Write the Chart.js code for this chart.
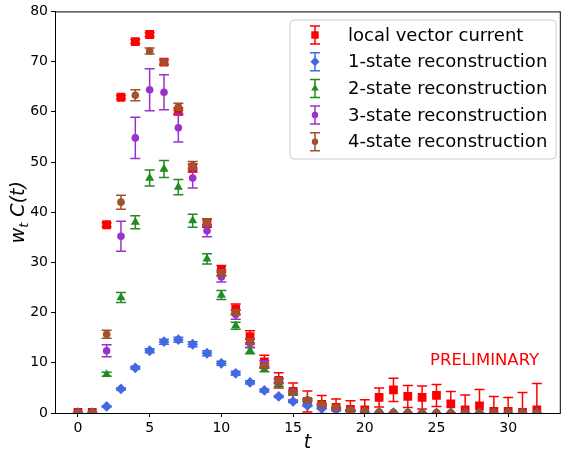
<!DOCTYPE html>
<html>
<head>
<meta charset="utf-8">
<script src="https://cdn.jsdelivr.net/npm/chart.js@4.4.0/dist/chart.umd.min.js"></script>
<style>
  html, body { margin: 0; padding: 0; background: #fff; overflow: hidden; }
  canvas { display: block; }
</style>
</head>
<body>
<canvas id="corr" width="566" height="452"></canvas>
<script>
// time slices
const tValues = [0, 1, 2, 3, 4, 5, 6, 7, 8, 9, 10, 11, 12, 13, 14, 15, 16,
  17, 18, 19, 20, 21, 22, 23, 24, 25, 26, 27, 28, 29, 30, 31, 32];

// local vector current correlator
const localCurrent = [0.1, 0.1, 37.5, 62.9, 74.0, 75.4, 69.9, 60.1, 48.8, 37.8, 28.4, 20.7, 15.2,
  10.2, 6.5, 4.3, 2.3, 1.7, 1.1, 0.7, 0.6, 3.1, 4.6, 3.3, 3.1, 3.5, 1.8, 0.6, 1.4, 0.3, 0.3, 0.1, 0.6];
const localErr = [0.05, 0.05, 0.4, 0.3, 0.4, 0.4, 0.5, 0.7, 0.8, 0.8, 1.0, 1.0, 1.2,
  1.3, 1.5, 1.7, 2.1, 1.8, 1.7, 1.75, 2.05, 1.9, 2.3, 2.2, 2.3, 2.2, 2.5, 3.0, 3.3, 3.0, 2.8, 4.0, 5.3];

// n-state reconstructions
const state1 = [0.05, 0.05, 1.3, 4.8, 9.0, 12.4, 14.2, 14.6, 13.7, 11.9, 9.9, 7.9, 6.1,
  4.5, 3.3, 2.3, 1.5, 0.9, 0.6, 0.4, 0.2, 0.1, 0.05, 0.03, 0.02, 0.01, 0, 0, 0, 0, 0, 0, 0];
const state1Err = [0, 0, 0.1, 0.2, 0.3, 0.4, 0.5, 0.5, 0.5, 0.5, 0.4, 0.4, 0.3,
  0.3, 0.2, 0.2, 0.2, 0.1, 0.1, 0.1, 0, 0, 0, 0, 0, 0, 0, 0, 0, 0, 0, 0, 0];

const state2 = [0.05, 0.05, 7.7, 23.0, 38.0, 46.8, 48.6, 45.0, 38.3, 30.7, 23.5, 17.4, 12.4,
  8.7, 5.7, 3.9, 2.6, 1.6, 1.0, 0.5, 0.3, 0.1, 0.05, 0.02, 0.01, 0, 0, 0, 0, 0, 0, 0, 0];
const state2Err = [0, 0, 0.4, 1.0, 1.3, 1.6, 1.7, 1.5, 1.3, 1.0, 0.9, 0.7, 0.6,
  0.5, 0.4, 0.3, 0.2, 0.2, 0.1, 0.1, 0, 0, 0, 0, 0, 0, 0, 0, 0, 0, 0, 0, 0];

const state3 = [0.05, 0.05, 12.4, 35.2, 54.8, 64.4, 63.9, 56.8, 46.8, 36.3, 27.1, 19.6, 13.9,
  9.8, 6.4, 4.2, 2.6, 1.5, 0.9, 0.5, 0.3, 0.1, 0.05, 0.02, 0.01, 0, 0, 0, 0, 0, 0, 0, 0];
const state3Err = [0, 0, 1.2, 3.0, 4.1, 4.2, 3.5, 2.8, 2.0, 1.2, 1.0, 0.9, 0.8,
  0.6, 0.5, 0.4, 0.3, 0.2, 0.1, 0.1, 0, 0, 0, 0, 0, 0, 0, 0, 0, 0, 0, 0, 0];

const state4 = [0.05, 0.05, 15.7, 42.0, 63.3, 72.1, 69.9, 61.0, 49.3, 38.0, 27.9, 20.0, 14.2,
  9.4, 6.4, 4.1, 2.6, 1.7, 1.1, 0.6, 0.4, 0.2, 0.1, 0.05, 0.03, 0.02, 0.01, 0, 0, 0, 0, 0, 0];
const state4Err = [0, 0, 0.8, 1.4, 1.1, 0.6, 0.5, 0.7, 0.8, 0.7, 0.6, 0.5, 0.5,
  0.4, 0.3, 0.3, 0.2, 0.2, 0.1, 0.1, 0, 0, 0, 0, 0, 0, 0, 0, 0, 0, 0, 0, 0];

const seriesLabels = ['local vector current', '1-state reconstruction', '2-state reconstruction',
  '3-state reconstruction', '4-state reconstruction'];
const xTicks = [0, 5, 10, 15, 20, 25, 30];

const series = [
  { y: localCurrent, err: localErr, color: '#ff0000', style: 'rect', radius: 6.2 },
  { y: state1, err: state1Err, color: '#4169e1', style: 'rectRot', radius: 5.4 },
  { y: state2, err: state2Err, color: '#228b22', style: 'triangle', radius: 5.2 },
  { y: state3, err: state3Err, color: '#9932cc', style: 'circle', radius: 3.8 },
  { y: state4, err: state4Err, color: '#a0522d', style: 'circle', radius: 3.8 }
];

const FONT = "'DejaVu Sans', sans-serif";
Chart.defaults.font.family = FONT;
Chart.defaults.color = '#000';

// vertical error bars with caps, drawn just under each dataset's markers
const errorBars = {
  id: 'errorBars',
  beforeDatasetDraw(chart, args) {
    const ds = chart.data.datasets[args.index];
    if (!ds.errors) return;
    const { ctx, chartArea, scales } = chart;
    ctx.save();
    ctx.beginPath();
    ctx.rect(chartArea.left, chartArea.top, chartArea.right - chartArea.left, chartArea.bottom - chartArea.top);
    ctx.clip();
    ctx.strokeStyle = ds.backgroundColor;
    ctx.lineWidth = 1.5;
    ds.data.forEach((p, i) => {
      const e = ds.errors[i];
      if (!e) return;
      const x = scales.x.getPixelForValue(p.x);
      const y0 = scales.y.getPixelForValue(p.y - e);
      const y1 = scales.y.getPixelForValue(p.y + e);
      ctx.beginPath();
      ctx.moveTo(x, y0); ctx.lineTo(x, y1);
      ctx.moveTo(x - 5, y0); ctx.lineTo(x + 5, y0);
      ctx.moveTo(x - 5, y1); ctx.lineTo(x + 5, y1);
      ctx.stroke();
    });
    ctx.restore();
  }
};

// frame, axis titles, legend box and the PRELIMINARY tag
const decorations = {
  id: 'decorations',
  afterDraw(chart) {
    const { ctx, chartArea: a } = chart;
    ctx.save();
    ctx.strokeStyle = '#000';
    ctx.lineWidth = 1;
    ctx.strokeRect(a.left + 0.5, a.top + 0.5, a.right - a.left, a.bottom - a.top);

    // x title
    ctx.fillStyle = '#000';
    ctx.font = 'italic 19px ' + FONT;
    ctx.textAlign = 'center';
    ctx.textBaseline = 'alphabetic';
    ctx.fillText('t', (a.left + a.right) / 2, 448);

    // y title: w_t C(t)
    ctx.save();
    ctx.translate(24, (a.top + a.bottom) / 2);
    ctx.rotate(-Math.PI / 2);
    const main = 'italic 19px ' + FONT, sub = 'italic 13px ' + FONT;
    ctx.font = main; const wW = ctx.measureText('w').width;
    ctx.font = sub; const tW = ctx.measureText('t').width;
    ctx.font = main; const cW = ctx.measureText(' C(t)').width;
    let x = -(wW + tW + cW) / 2;
    ctx.textAlign = 'left';
    ctx.font = main; ctx.fillText('w', x, 0); x += wW;
    ctx.font = sub; ctx.fillText('t', x, 4); x += tW;
    ctx.font = main; ctx.fillText(' C(t)', x, 0);
    ctx.restore();

    // PRELIMINARY
    ctx.fillStyle = '#ff0000';
    ctx.font = '16.5px ' + FONT;
    ctx.textAlign = 'left';
    ctx.textBaseline = 'middle';
    ctx.fillText('PRELIMINARY', 430, 361);

    // legend
    const bx = 290, by = 20, bw = 266, bh = 139, r = 4;
    ctx.beginPath();
    ctx.moveTo(bx + r, by);
    ctx.arcTo(bx + bw, by, bx + bw, by + bh, r);
    ctx.arcTo(bx + bw, by + bh, bx, by + bh, r);
    ctx.arcTo(bx, by + bh, bx, by, r);
    ctx.arcTo(bx, by, bx + bw, by, r);
    ctx.closePath();
    ctx.fillStyle = 'rgba(255,255,255,0.8)';
    ctx.fill();
    ctx.strokeStyle = '#cccccc';
    ctx.stroke();

    series.forEach((s, i) => {
      const cy = 35 + i * 26.7, mx = 315;
      ctx.strokeStyle = s.color;
      ctx.lineWidth = 1.5;
      ctx.beginPath();
      ctx.moveTo(mx, cy - 9); ctx.lineTo(mx, cy + 9);
      ctx.moveTo(mx - 5, cy - 9); ctx.lineTo(mx + 5, cy - 9);
      ctx.moveTo(mx - 5, cy + 9); ctx.lineTo(mx + 5, cy + 9);
      ctx.stroke();
      ctx.fillStyle = s.color;
      Chart.helpers.drawPoint(ctx, { pointStyle: s.style, radius: s.radius * 0.85, rotation: 0, borderWidth: 0 }, mx, cy);
      ctx.fillStyle = '#000';
      ctx.font = '18px ' + FONT;
      ctx.textBaseline = 'middle';
      ctx.fillText(seriesLabels[i], 348, cy + 1);
    });
    ctx.restore();
  }
};

const datasets = series.map((s, i) => ({
  label: seriesLabels[i],
  data: tValues.map((t, k) => ({ x: t, y: s.y[k] })),
  errors: s.err,
  backgroundColor: s.color,
  borderColor: s.color,
  borderWidth: 0,
  pointStyle: s.style,
  pointRadius: s.radius,
  pointHoverRadius: s.radius,
  order: series.length - i
}));

new Chart(document.getElementById('corr').getContext('2d'), {
  type: 'scatter',
  data: { datasets },
  options: {
    responsive: false,
    animation: false,
    layout: { padding: { top: 11, right: 1, left: 0, bottom: 0 } },
    plugins: { legend: { display: false }, tooltip: { enabled: false } },
    scales: {
      x: {
        type: 'linear',
        min: -1.6,
        max: 33.6,
        afterBuildTicks: s => { s.ticks = xTicks.map(v => ({ value: v })); },
        afterFit: s => { s.height = 39; },
        grid: { display: true, drawOnChartArea: false, drawTicks: true, tickLength: 4, color: '#000' },
        border: { display: true, color: '#000' },
        ticks: { font: { size: 14 }, padding: 3, maxRotation: 0 }
      },
      y: {
        min: 0,
        max: 80,
        ticks: { stepSize: 10, font: { size: 14 }, padding: 3 },
        afterFit: s => { s.width = 55; },
        grid: { display: true, drawOnChartArea: false, drawTicks: true, tickLength: 4, color: '#000' },
        border: { display: true, color: '#000' }
      }
    }
  },
  plugins: [errorBars, decorations]
});
</script>
</body>
</html>
